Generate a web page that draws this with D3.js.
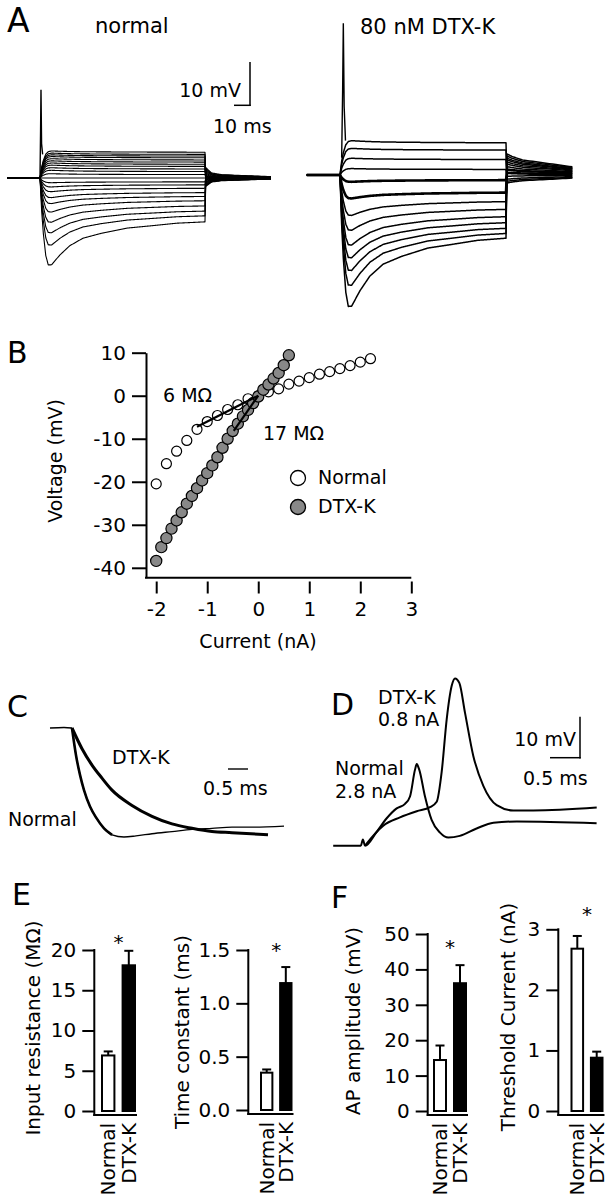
<!DOCTYPE html>
<html><head><meta charset="utf-8">
<script src="https://cdn.jsdelivr.net/npm/d3@7"></script>
<style>
html,body{margin:0;padding:0;background:#fff;}
svg{display:block;}
text{font-family:"DejaVu Sans",sans-serif;fill:#000;}
</style></head><body>
<svg id="fig" width="616" height="1199"></svg>
<script>
// ================= DATA =================
// Panel A: shared step-response time course (ms)
const sagT    = [0, 1, 2, 3.5, 5, 7, 12, 18, 26, 37, 53, 67, 83, 100];
const chargeA = [0, 0.4, 0.65, 0.88, 0.97, 1, 1, 1, 1, 1, 1, 1, 1, 1];
const sagB    = [0, 0.35, 0.6, 0.88, 1, 0.97, 0.75, 0.54, 0.37, 0.26, 0.14, 0.09, 0.03, 0];
const tailT   = [0, 4, 10, 40];
const tailFracNormal = [1, 0.45, 0.3, 0.12];
const tailFracDtx    = [1, 0.85, 0.7, 0.38];

// Panel A, normal: steady level, peak and tail-start (mV) of each trace
const aNormalLevel = [-10.2,-8.8,-7.7,-6.5,-5.3,-4.3,-3.4,-2.4,-1.6,-0.9,0,0.8,1.5,2.1,2.7,3.2,3.7,4.2,4.7,5.1,5.5,6.0];
const aNormalPeak  = [-20.5,-15.8,-12.9,-10.4,-8.0,-6.0,-4.6,-3.2,-2.1,-1.1,0,1.0,1.8,2.4,3.0,3.5,4.0,4.5,5.0,5.4,5.8,6.3];
const aNormalTail  = [2.6,2.3,2.0,1.7,1.4,1.1,0.8,0.6,0.4,0.2,0,-0.2,-0.4,-0.6,-0.8,-1.0,-1.2,-1.4,-1.6,-1.8,-1.9,-2.1];
const aNormalSpikeT = [0.0, 0.35, 0.6, 0.95, 1.6];
const aNormalSpikeV = [0, 11, 20.5, 8, 5.5];

// Panel A, 80 nM DTX-K
const aDtxLevel = [-14.7,-13.6,-12.4,-11.1,-9.7,-8.0,-6.2,-4.1,-1.2,1.3,3.6,5.8,7.5];
const aDtxPeak  = [-31,-26,-22.5,-19.5,-16.5,-13,-9.5,-5.5,-1.6,1.5,3.9,6.2,8.0];
const aDtxTail  = [5.0,4.5,4.0,3.6,3.1,2.6,2.0,1.3,0.5,-0.3,-1.0,-1.5,-1.9];
const aDtxSpikeT = [1.0, 1.6, 2.0, 2.5, 3.3];
const aDtxSpikeV = [4, 20, 35.3, 16, 8];

// Panel B: I-V relation
const bNormalI = [-2,-1.8,-1.6,-1.4,-1.2,-1,-0.8,-0.6,-0.4,-0.2,0,0.2,0.4,0.6,0.8,1,1.2,1.4,1.6,1.8,2,2.2];
const bNormalV = [-20.5,-15.8,-12.9,-10.4,-7.8,-6.0,-4.6,-3.2,-2.1,-0.7,0,0.9,1.6,2.7,3.4,4.2,5.0,5.6,6.3,7.0,7.8,8.6];
const bDtxI = [-2,-1.9,-1.8,-1.7,-1.6,-1.5,-1.4,-1.3,-1.2,-1.1,-1,-0.9,-0.8,-0.7,-0.6,-0.5,-0.4,-0.3,-0.2,-0.1,0,0.1,0.2,0.3,0.4,0.5,0.6];
const bDtxV = [-38.4,-35.2,-33.1,-30.9,-29,-27.1,-25.1,-23.3,-21.5,-19.7,-18,-16.2,-14.3,-12.1,-10,-8.2,-6.5,-4.8,-3.3,-1.7,-0.2,1.4,2.6,4.0,5.3,7.1,9.4];
const bFitR = [6, 17];          // MΩ
const bFitIStart = [-1.2, -0.48];
const bFitLabels = ["6 MΩ", "17 MΩ"];
const bXTicks = [-2,-1,0,1,2,3];
const bYTicks = [-40,-30,-20,-10,0,10];

// Panel C: normalized voltage decay (ms)
const cPreT = [-0.55, -0.2, 0];
const cPreV = [0, -0.005, 0];
const cDtxT = [0,0.25,0.5,0.75,1,1.5,2,2.5,3,3.5,4,4.9];
const cDtxV = [0,0.19,0.34,0.46,0.57,0.71,0.81,0.88,0.92,0.95,0.96,0.98];
const cNormT = [0,0.1,0.2,0.3,0.45,0.6,0.8,1.0,1.3,1.6,2,2.5,3,3.5,4,4.5,5.3];
const cNormV = [0,0.25,0.43,0.57,0.72,0.82,0.92,0.98,1.0,0.99,0.97,0.95,0.93,0.92,0.91,0.91,0.90];

// Panel D: action potentials (ms, mV)
const dNormT = [-0.53,-0.07,-0.035,0.0,0.195,0.362,0.528,0.667,0.75,0.833,0.862,0.905,1.0,1.11,1.25,1.39,1.58,1.86,2.14,2.53,3.86];
const dNormV = [0,0,1.5,0,3.4,6.7,9.1,10.2,12.0,18.5,19.9,18.5,12.0,6.3,3.2,2.0,2.4,4.2,5.6,5.9,5.5];
const dDtxT = [0.0,0.305,0.583,0.862,1.083,1.195,1.278,1.362,1.445,1.5,1.572,1.667,1.805,1.972,2.195,2.472,2.805,3.862];
const dDtxV = [0,4.9,6.9,8.4,9.4,10.7,18.0,30.9,39.0,40.8,39.7,32.4,21.9,14.6,9.9,8.6,8.6,9.3];

// Panels E, F: bar charts
const groups = ["Normal", "DTX-K"];
const inputRes = [6.9, 18.1],  inputResErr = [0.5, 1.8];
const timeConst = [0.35, 1.19], timeConstErr = [0.03, 0.15];
const apAmp = [14.4, 36.1],    apAmpErr = [4.1, 5.1];
const threshCur = [2.68, 0.88], threshCurErr = [0.21, 0.10];

// ================= DRAW =================
const svg = d3.select("#fig");
svg.append("rect").attr("width",616).attr("height",1199).attr("fill","#fff");
const FS = 19, FSB = 20;

function label(txt, x, y, size, anchor){
  return svg.append("text").attr("x",x).attr("y",y).attr("font-size",size)
    .attr("text-anchor",anchor||"start").attr("fill","#000").text(txt);
}
function rlabel(txt, x, y, size, anchor){
  return svg.append("text").attr("transform",`translate(${x},${y}) rotate(-90)`)
    .attr("font-size",size).attr("text-anchor",anchor||"middle").attr("dy","0.35em").attr("fill","#000").text(txt);
}
function hline(x1,x2,y,w){svg.append("line").attr("x1",x1).attr("x2",x2).attr("y1",y).attr("y2",y).attr("stroke","#000").attr("stroke-width",w||2);}
function vline(x,y1,y2,w){svg.append("line").attr("x1",x).attr("x2",x).attr("y1",y1).attr("y2",y2).attr("stroke","#000").attr("stroke-width",w||2);}

// panel letters
label("A", 7, 32, 33); label("B", 7, 363, 30); label("C", 7, 717, 30);
label("D", 331, 715, 30); label("E", 12, 905, 30); label("F", 331, 908, 30);

// ---------- Panel A ----------
const aShapeA = d3.scaleLinear().domain(sagT).range(chargeA).clamp(true);
const aShapeB = d3.scaleLinear().domain(sagT).range(sagB).clamp(true);
function stepTrace(level, peak, tail, tailFrac){
  const tf = d3.scaleLinear().domain(tailT).range(tailFrac);
  const pts = [[-20,0],[-0.05,0]];
  for(let t=0;t<=100;t+=0.25){ pts.push([t, level*aShapeA(t) + (peak-level)*aShapeB(t)]); }
  for(let dt=0.6; dt<=40; dt+= (dt<10?0.5:2)){ pts.push([100+dt, tail*tf(dt)]); }
  pts.push([140, tail*tf(40)]);
  return pts;
}
function drawStepPanel(x0, x100, base, levels, peaks, tails, tailFrac, sw, thickIdx, spT, spV){
  const x = d3.scaleLinear().domain([0,100]).range([x0,x100]);
  const y = d3.scaleLinear().domain([0,10]).range([base, base-43]);
  const line = d3.line().x(d=>x(d[0])).y(d=>y(d[1]));
  const g = svg.append("g");
  levels.forEach((lv,i)=>{
    g.append("path").attr("d", line(stepTrace(lv, peaks[i], tails[i], tailFrac)))
      .attr("fill","none").attr("stroke","#000")
      .attr("stroke-width", thickIdx.includes(i) ? 2.6 : sw).attr("stroke-linejoin","round");
  });
  g.append("path").attr("d", line(d3.zip(spT, spV)))
    .attr("fill","none").attr("stroke","#000").attr("stroke-width",1.4);
}
drawStepPanel(40, 205, 178, aNormalLevel, aNormalPeak, aNormalTail, tailFracNormal, 1.1, [], aNormalSpikeT, aNormalSpikeV);
drawStepPanel(340, 506, 175, aDtxLevel, aDtxPeak, aDtxTail, tailFracDtx, 1.5, [7,8], aDtxSpikeT, aDtxSpikeV);
label("normal", 95, 33, 21);
label("80 nM DTX-K", 360, 34, 21);
// scale bar A
vline(250, 62, 106, 1.5); hline(234, 250.7, 105.3, 1.5);
label("10 mV", 241, 97, FS, "end");
label("10 ms", 213, 133, FS);

// ---------- Panel B ----------
const xB = d3.scaleLinear().domain([-2.2, 3]).range([146, 411.3]);
const yB = d3.scaleLinear().domain([-42.3, 10]).range([577.7, 352.7]);
const axY = svg.append("g").attr("transform","translate(146,0)")
  .call(d3.axisLeft(yB).tickValues(bYTicks).tickSize(14).tickPadding(6).tickSizeOuter(0).tickFormat(d=>String(d)));
const axX = svg.append("g").attr("transform","translate(0,581.5)")
  .call(d3.axisBottom(xB).tickValues(bXTicks).tickSize(12).tickPadding(8).tickSizeOuter(0).tickFormat(d=>String(d)));
axX.select(".domain").remove();
hline(145, 411.3, 577.7, 2);
[axY, axX].forEach(a=>{
  a.selectAll("text").attr("font-size",FSB).attr("font-family","DejaVu Sans").attr("fill","#000");
  a.selectAll("line").attr("stroke","#000").attr("stroke-width",2);
  a.selectAll(".domain").attr("stroke","#000").attr("stroke-width",2);
});
rlabel("Voltage (mV)", 55, 461, FS);
label("Current (nA)", 258, 648, FS, "middle");
svg.append("g").selectAll("circle").data(d3.zip(bNormalI,bNormalV)).join("circle")
  .attr("cx",d=>xB(d[0])).attr("cy",d=>yB(d[1])).attr("r",5)
  .attr("fill","#fff").attr("stroke","#000").attr("stroke-width",1.2);
svg.append("g").selectAll("circle").data(d3.zip(bDtxI,bDtxV)).join("circle")
  .attr("cx",d=>xB(d[0])).attr("cy",d=>yB(d[1])).attr("r",5.6)
  .attr("fill","#888").attr("stroke","#000").attr("stroke-width",1.2);
// fit lines (on top of the points)
bFitR.forEach((r,i)=>{
  svg.append("line").attr("x1",xB(bFitIStart[i])).attr("y1",yB(r*bFitIStart[i]))
    .attr("x2",xB(0)).attr("y2",yB(0)).attr("stroke","#000").attr("stroke-width",2.2);
});
label(bFitLabels[0], 163, 402, FS);
label(bFitLabels[1], 263, 440, FS);
svg.append("circle").attr("cx",298).attr("cy",478).attr("r",7.5).attr("fill","#fff").attr("stroke","#000").attr("stroke-width",1.3);
svg.append("circle").attr("cx",298).attr("cy",507).attr("r",7.5).attr("fill","#888").attr("stroke","#000").attr("stroke-width",1.3);
label("Normal", 318, 484, FS);
label("DTX-K", 318, 513, FS);

// ---------- Panel C ----------
const xC = d3.scaleLinear().domain([0,1]).range([72,112]);
const yC = d3.scaleLinear().domain([0,1]).range([728,837]);
const lineC = d3.line().x(d=>xC(d[0])).y(d=>yC(d[1])).curve(d3.curveMonotoneX);
const cNorm = d3.zip(cNormT,cNormV);
svg.append("path").attr("d", lineC(d3.zip(cPreT,cPreV))).attr("fill","none").attr("stroke","#000").attr("stroke-width",1.6);
svg.append("path").attr("d", lineC(cNorm)).attr("fill","none").attr("stroke","#000").attr("stroke-width",1.3);
svg.append("path").attr("d", lineC(cNorm.filter(d=>d[0]<=1.0))).attr("fill","none").attr("stroke","#000").attr("stroke-width",2.6);
svg.append("path").attr("d", lineC(d3.zip(cDtxT,cDtxV))).attr("fill","none").attr("stroke","#000").attr("stroke-width",3);
label("DTX-K", 112, 764, FS);
label("Normal", 8, 826, FS);
hline(xC(3.9), xC(4.4), 769, 1.4);
label("0.5 ms", 203, 795, FS);

// ---------- Panel D ----------
const xD = d3.scaleLinear().domain([0,1]).range([365,425]);
const yD = d3.scaleLinear().domain([0,10]).range([845.7,804.7]);
const lineD = d3.line().x(d=>xD(d[0])).y(d=>yD(d[1])).curve(d3.curveMonotoneX);
svg.append("path").attr("d", lineD(d3.zip(dNormT,dNormV))).attr("fill","none").attr("stroke","#000").attr("stroke-width",2);
svg.append("path").attr("d", lineD(d3.zip(dDtxT,dDtxV))).attr("fill","none").attr("stroke","#000").attr("stroke-width",2);
label("DTX-K", 378, 704, FS); label("0.8 nA", 378, 726, FS);
label("Normal", 335, 775, FS); label("2.8 nA", 335, 798, FS);
vline(580, 716.7, 758.4, 1.5); hline(550, 580.7, 757.7, 1.5);
label("10 mV", 576, 746, FS, "end");
label("0.5 ms", 523, 785, FS);

// ---------- Panels E, F ----------
function barChart(o){
  const y = d3.scaleLinear().domain([0,o.max]).range([o.y0, o.yTop]);
  const x = d3.scaleBand().domain(groups).range(o.band).paddingInner(0.3).paddingOuter(0);
  const g = svg.append("g");
  const ax = g.append("g").attr("transform",`translate(${o.ax},0)`)
    .call(d3.axisLeft(y).tickValues(o.ticks).tickSize(12).tickPadding(6).tickSizeOuter(0).tickFormat(o.fmt));
  ax.select(".domain").remove();
  ax.selectAll("text").attr("font-size",FSB).attr("font-family","DejaVu Sans").attr("fill","#000");
  ax.selectAll("line").attr("stroke","#000").attr("stroke-width",2);
  g.append("line").attr("x1",o.ax).attr("x2",o.ax).attr("y1",o.yTop-1).attr("y2",o.y0+5).attr("stroke","#000").attr("stroke-width",2);
  g.append("line").attr("x1",o.ax-1).attr("x2",o.band[1]+1).attr("y1",o.y0+4).attr("y2",o.y0+4).attr("stroke","#000").attr("stroke-width",2);
  groups.forEach((k,i)=>{
    const bx = x(k), bw = x.bandwidth(), cx = bx + bw/2;
    const top = y(o.vals[i]), et = y(o.vals[i]+o.errs[i]);
    g.append("line").attr("x1",cx).attr("x2",cx).attr("y1",top).attr("y2",et).attr("stroke","#000").attr("stroke-width",2);
    g.append("line").attr("x1",cx-4.5).attr("x2",cx+4.5).attr("y1",et).attr("y2",et).attr("stroke","#000").attr("stroke-width",2);
    g.append("rect").attr("x",bx+1).attr("y",top).attr("width",bw-2).attr("height",o.y0-top)
      .attr("fill", i===0 ? "#fff" : "#000").attr("stroke","#000").attr("stroke-width",2);
    rlabel(k, cx, o.y0+12, FSB, "end");
  });
  label("*", (o.band[0]+o.band[1])/2, o.starY, FSB, "middle");
  rlabel(o.title, o.titleX, o.titleY, FSB);
}
barChart({max:20, y0:1111, yTop:950, ax:94.3, band:[101,136], ticks:[0,5,10,15,20], fmt:d=>String(d),
  vals:inputRes, errs:inputResErr, starY:948.5, title:"Input resistance (MΩ)", titleX:33, titleY:1028});
barChart({max:1.5, y0:1110, yTop:950, ax:248.3, band:[260,292.5], ticks:[0,0.5,1,1.5], fmt:d3.format(".1f"),
  vals:timeConst, errs:timeConstErr, starY:956.5, title:"Time constant (ms)", titleX:182, titleY:1032});
barChart({max:50, y0:1111, yTop:934, ax:427.7, band:[433,467], ticks:[0,10,20,30,40,50], fmt:d=>String(d),
  vals:apAmp, errs:apAmpErr, starY:953.5, title:"AP amplitude (mV)", titleX:353, titleY:1021});
barChart({max:3, y0:1111, yTop:929.3, ax:558.3, band:[570.5,603.5], ticks:[0,1,2,3], fmt:d=>String(d),
  vals:threshCur, errs:threshCurErr, starY:920.5, title:"Threshold Current (nA)", titleX:508, titleY:1017});
</script>
</body></html>
